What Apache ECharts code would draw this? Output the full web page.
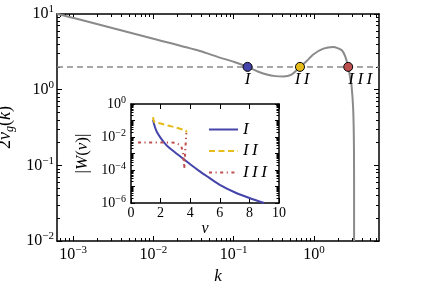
<!DOCTYPE html>
<html><head><meta charset="utf-8">
<script src="https://cdn.jsdelivr.net/npm/echarts@6.0.0/dist/echarts.min.js"></script>
<style>html,body{margin:0;padding:0;background:#fff;}#chart{width:436px;height:291px;}</style>
</head><body><div id="chart"></div>
<script>
// ---- main panel: 2 v_g(k) versus k (log-log) ----
const kValues  = [0.00063,0.00111,0.00316,0.01,0.038,0.0675,0.1,0.149,0.2,0.258,0.331,0.415,0.525,0.67,0.813,0.98,1.31,1.74,2.21,2.45,2.67,2.82,2.94,3.08,3.15,3.16,3.16];
const vgValues = [10,8.67,6.47,4.70,3.24,2.65,2.34,2.0,1.74,1.59,1.51,1.49,1.58,2.0,2.40,2.92,3.48,3.66,3.33,2.75,2.0,1.45,1.12,0.55,0.162,0.0316,0.01];
const levelValue = 2;
const crossNames = ['I', 'II', 'III'];
const crossK = [0.149, 0.67, 2.67];
const crossV = [2, 2, 2];
const mainXTickExps = [-3, -2, -1, 0];
const mainYTickExps = [-2, -1, 0, 1];

// ---- inset: |W(v)| versus v ----
const vI   = [1.49,1.6,1.75,2.0,2.3,2.6,3.0,3.5,4.0,4.6,5.2,6.0,7.0,8.0,9.0];
const wI   = [0.112,0.0447,0.0200,0.00891,0.00398,0.00214,0.00112,5.01e-4,2.24e-4,8.91e-5,3.80e-5,1.26e-5,4.47e-6,2.00e-6,1.0e-6];
const vII  = [1.49,1.51,1.6,2.0,2.5,3.0,3.5,3.72,3.75];
const wII  = [0.162,0.112,0.0759,0.0661,0.0501,0.0380,0.0282,0.0251,0.0191];
const vIII = [0.47,1.0,2.0,2.6,3.0,3.25,3.4,3.52,3.6,3.68,3.74];
const wIII = [0.00468,0.00468,0.00468,0.00468,0.00447,0.00355,0.00269,0.00112,1.26e-4,0.00251,0.0174];
const insetXTicks = [0, 2, 4, 6, 8, 10];
const insetYTickExps = [-6, -5, -4, -3, -2, -1, 0];
const insetYLabelExps = [-6, -4, -2, 0];

// ---- styling ----
const colI = '#4444aa', colII = '#e6bb1c', colIII = '#bd4e4e', gray = '#8a8a8a';
const SERIF = 'Liberation Serif';
const lg = Math.log10;

function minorLogs(lo, hi) {
  const out = [];
  for (let e = Math.floor(lo) - 1; e <= Math.ceil(hi); e++) {
    for (let m = 2; m <= 9; m++) {
      const v = e + lg(m);
      if (v > lo + 1e-9 && v < hi - 1e-9) out.push(v);
    }
  }
  return out;
}
function supStr(e) { return (e < 0 ? '\u2212' : '') + Math.abs(e); }
function powFmt(v) { return '{b|10}{s|' + supStr(Math.round(v)) + '}'; }
function richPow(base, sup) {
  return {
    b: { fontFamily: SERIF, fontSize: base, lineHeight: base + 4, color: '#000' },
    s: { fontFamily: SERIF, fontSize: sup, lineHeight: sup + 1, verticalAlign: 'top', color: '#000' }
  };
}
function axis(o) {
  return {
    type: 'value', gridIndex: o.grid, position: o.pos, min: o.min, max: o.max,
    axisLine: { show: !o.minor, onZero: false, lineStyle: { color: '#000', width: 1.5 } },
    axisTick: { show: true, inside: true, length: o.len, customValues: o.ticks, lineStyle: { color: '#000', width: 1 } },
    axisLabel: o.labels ? { show: true, customValues: o.labels, formatter: o.fmt, margin: o.margin, rich: o.rich,
                            fontFamily: SERIF, fontSize: o.fs, color: '#000' } : { show: false },
    splitLine: { show: false },
    name: o.name || '', nameLocation: 'middle', nameGap: o.nameGap || 0, nameTextStyle: o.nameStyle || {},
    nameRotate: o.nameRotate
  };
}

const MX = [-3.2, 0.81], MY = [-2, 1], IX = [0, 10], IY = [-6, 0];

const xAxes = [
  axis({ grid: 0, pos: 'bottom', min: MX[0], max: MX[1], ticks: mainXTickExps, len: 5, labels: mainXTickExps, fmt: powFmt, margin: 4, rich: richPow(16, 11),
         name: '{i|k}', nameGap: 19, nameStyle: { rich: { i: { fontFamily: SERIF, fontStyle: 'italic', fontSize: 17, color: '#000' } } } }),
  axis({ grid: 0, pos: 'bottom', min: MX[0], max: MX[1], ticks: minorLogs(MX[0], MX[1]), len: 3, minor: true }),
  axis({ grid: 0, pos: 'top', min: MX[0], max: MX[1], ticks: mainXTickExps, len: 5 }),
  axis({ grid: 0, pos: 'top', min: MX[0], max: MX[1], ticks: minorLogs(MX[0], MX[1]), len: 3, minor: true }),
  axis({ grid: 1, pos: 'bottom', min: IX[0], max: IX[1], ticks: insetXTicks, len: 5, labels: insetXTicks, fmt: v => String(v), margin: 3, fs: 14,
         name: '{i|v}', nameGap: 12, nameStyle: { rich: { i: { fontFamily: SERIF, fontStyle: 'italic', fontSize: 16, color: '#000' } } } }),
  axis({ grid: 1, pos: 'top', min: IX[0], max: IX[1], ticks: insetXTicks, len: 5 })
];
const yAxes = [
  axis({ grid: 0, pos: 'left', min: MY[0], max: MY[1], ticks: mainYTickExps, len: 5, labels: mainYTickExps, fmt: powFmt, margin: 3, rich: richPow(16, 11),
         name: '{r|2}{i|v}{s|g}{r|(}{i|k}{r|)}', nameGap: 33, nameRotate: 90,
         nameStyle: { rich: {
           r: { fontFamily: SERIF, fontSize: 18, lineHeight: 20, color: '#000' },
           i: { fontFamily: SERIF, fontStyle: 'italic', fontSize: 18, lineHeight: 20, color: '#000' },
           s: { fontFamily: SERIF, fontStyle: 'italic', fontSize: 12, lineHeight: 12, verticalAlign: 'bottom', color: '#000' } } } }),
  axis({ grid: 0, pos: 'left', min: MY[0], max: MY[1], ticks: minorLogs(MY[0], MY[1]), len: 3, minor: true }),
  axis({ grid: 0, pos: 'right', min: MY[0], max: MY[1], ticks: mainYTickExps, len: 5 }),
  axis({ grid: 0, pos: 'right', min: MY[0], max: MY[1], ticks: minorLogs(MY[0], MY[1]), len: 3, minor: true }),
  axis({ grid: 1, pos: 'left', min: IY[0], max: IY[1], ticks: insetYTickExps, len: 4, labels: insetYLabelExps, fmt: powFmt, margin: 5, rich: richPow(14, 10),
         name: '{r||}{i|W}{r|(}{i|v}{r|)|}', nameGap: 40, nameRotate: 90,
         nameStyle: { rich: {
           r: { fontFamily: SERIF, fontSize: 17, color: '#000' },
           i: { fontFamily: SERIF, fontStyle: 'italic', fontSize: 17, color: '#000' } } } }),
  axis({ grid: 1, pos: 'left', min: IY[0], max: IY[1], ticks: minorLogs(IY[0], IY[1]), len: 2.5, minor: true }),
  axis({ grid: 1, pos: 'right', min: IY[0], max: IY[1], ticks: insetYTickExps, len: 4 }),
  axis({ grid: 1, pos: 'right', min: IY[0], max: IY[1], ticks: minorLogs(IY[0], IY[1]), len: 2.5, minor: true })
];

const mainData = kValues.map((k, i) => [lg(k), lg(vgValues[i])]);
const crossColors = [colI, colII, colIII];
const crossOffsets = [[0, 13], [2, 13], [12, 13]];
const spaced = n => n.split('').join('\u2009');
const crossData = crossK.map((k, i) => ({
  value: [lg(k), lg(crossV[i])],
  itemStyle: { color: crossColors[i] },
  label: { offset: crossOffsets[i] }
}));
const insetLine = (vs, ws) => vs.map((v, i) => [v, lg(ws[i])]);

const option = {
  animation: false,
  backgroundColor: '#fff',
  grid: [
    { left: 57, top: 14, width: 322, height: 227, containLabel: false, outerBoundsMode: 'none' },
    { left: 131, top: 104, width: 148, height: 99, containLabel: false, outerBoundsMode: 'none' }
  ],
  xAxis: xAxes,
  yAxis: yAxes,
  legend: {
    data: crossNames, orient: 'vertical', left: 208, top: 121, padding: 0,
    itemWidth: 29, itemHeight: 14, itemGap: 4.5,
    formatter: spaced,
    itemStyle: { opacity: 0 },
    textStyle: { fontFamily: SERIF, fontStyle: 'italic', fontSize: 17, lineHeight: 14, color: '#000' }
  },
  series: [
    { type: 'line', name: 'curve', xAxisIndex: 0, yAxisIndex: 0, data: mainData, showSymbol: false, symbol: 'none',
      smooth: 0.25, lineStyle: { color: gray, width: 2 }, z: 3,
      markLine: { silent: true, symbol: 'none', label: { show: false },
                  lineStyle: { color: gray, width: 1.5, type: [6, 4] }, data: [{ yAxis: lg(levelValue) }] } },
    { type: 'scatter', name: 'crossings', xAxisIndex: 0, yAxisIndex: 0, data: crossData, symbolSize: 9, z: 5,
      itemStyle: { borderColor: '#000', borderWidth: 1, opacity: 1 },
      label: { show: true, position: 'inside', formatter: p => spaced(crossNames[p.dataIndex]),
               fontFamily: SERIF, fontStyle: 'italic', fontSize: 17, color: '#000' } },
    { type: 'line', name: 'I', xAxisIndex: 4, yAxisIndex: 4, data: insetLine(vI, wI), symbol: 'none', smooth: 0.3,
      lineStyle: { color: colI, width: 2 }, itemStyle: { color: colI } },
    { type: 'line', name: 'II', xAxisIndex: 4, yAxisIndex: 4, data: insetLine(vII, wII), symbol: 'none',
      lineStyle: { color: colII, width: 2, type: [6, 3.5] }, itemStyle: { color: colII } },
    { type: 'line', name: 'III', xAxisIndex: 4, yAxisIndex: 4, data: insetLine(vIII, wIII), symbol: 'none',
      lineStyle: { color: colIII, width: 2, type: [3, 3.5, 1.2, 3.5] }, itemStyle: { color: colIII } }
  ]
};
const chart = echarts.init(document.getElementById('chart'), null, { renderer: 'canvas' });
chart.setOption(option);
</script></body></html>
